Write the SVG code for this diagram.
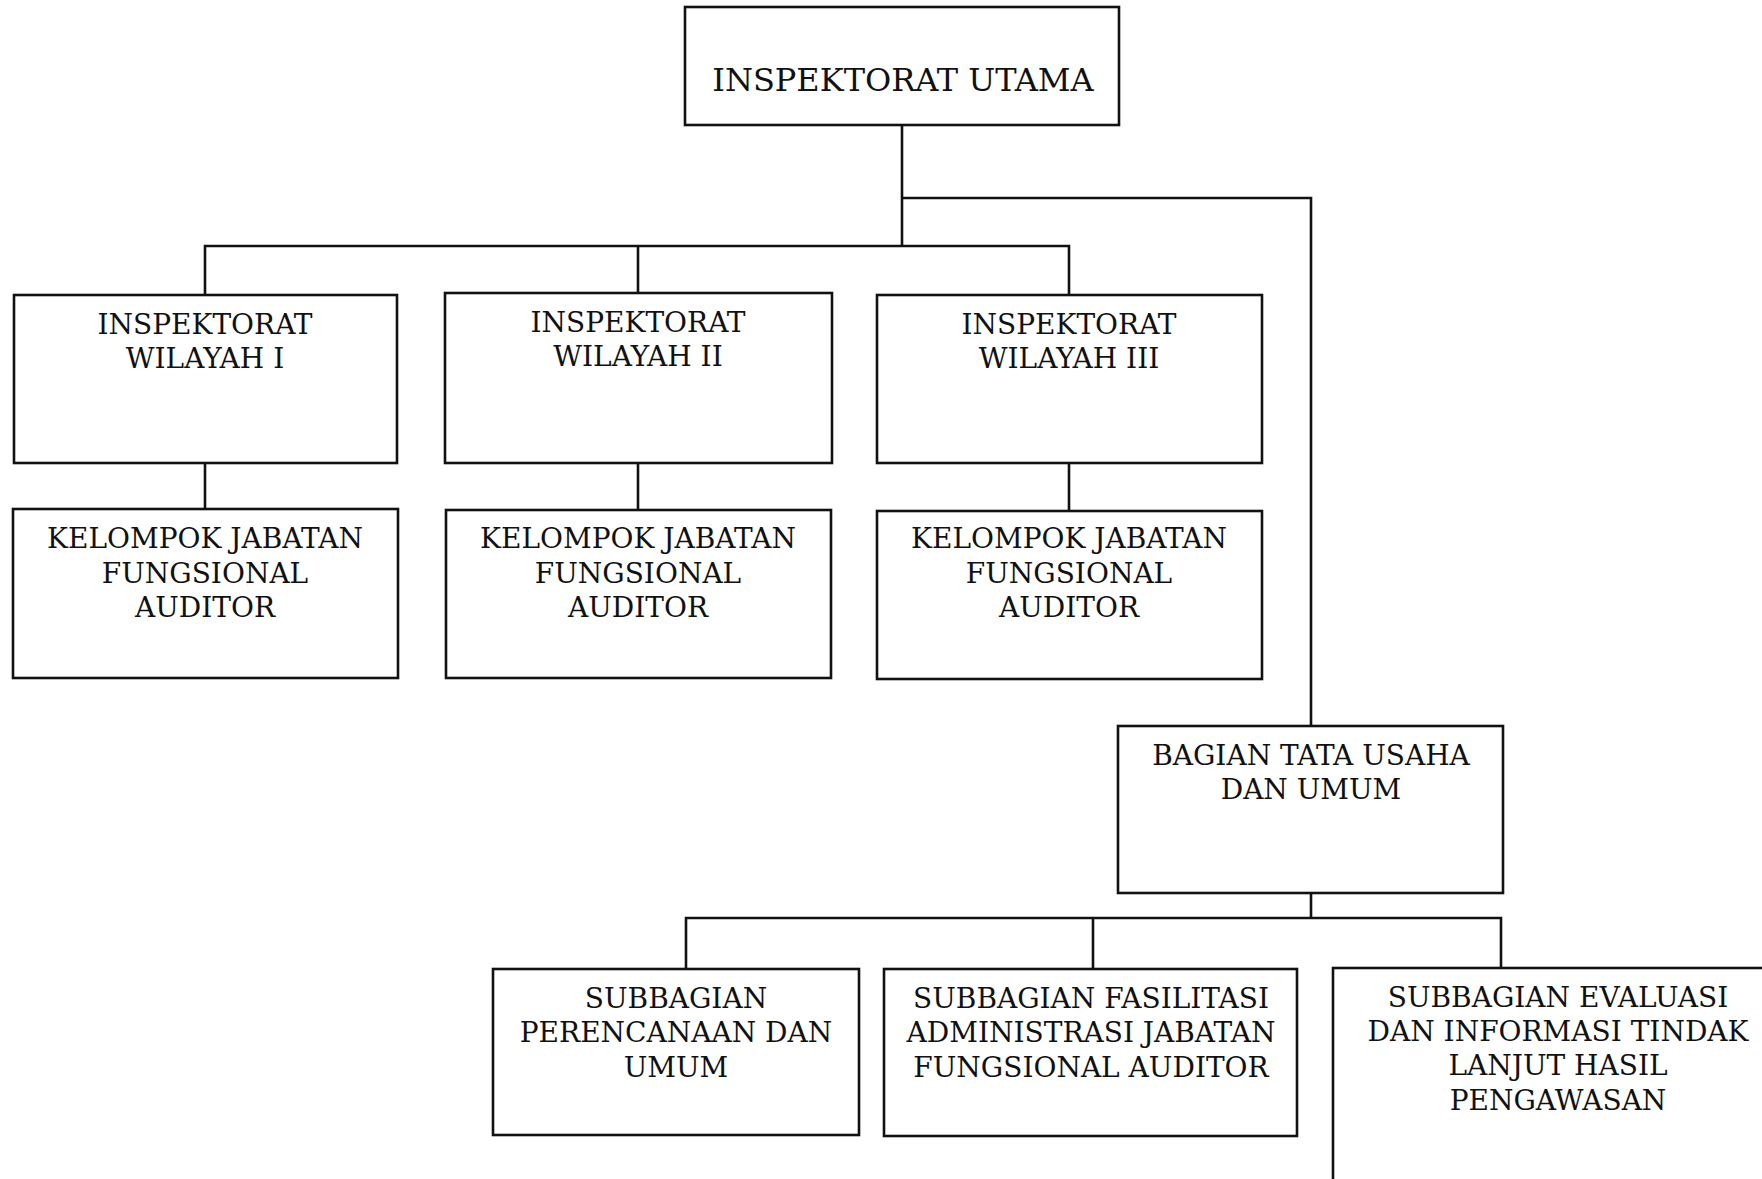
<svg xmlns="http://www.w3.org/2000/svg" width="1762" height="1179" viewBox="0 0 1762 1179">
  <style>
    .box { fill: #ffffff; stroke: #111111; stroke-width: 2.6; }
    .wire { fill: none; stroke: #111111; stroke-width: 2.6; }
    .lbl { font-family: "DejaVu Serif", "Liberation Serif", serif; font-size: 28px; fill: #111111; text-anchor: middle; }
    .title { font-size: 32px; }
  </style>
  <rect width="1762" height="1179" fill="#ffffff"/>

  <!-- connectors -->
  <g id="connectors">
    <path class="wire" d="M902 125 V246"/>
    <path class="wire" d="M902 198 H1311 V726"/>
    <path class="wire" d="M205 295 V246 H1069 V295"/>
    <path class="wire" d="M638 246 V293"/>
    <path class="wire" d="M205 463 V509"/>
    <path class="wire" d="M638 463 V510"/>
    <path class="wire" d="M1069 463 V511"/>
    <path class="wire" d="M1311 893 V918"/>
    <path class="wire" d="M686 969 V918 H1501 V968"/>
    <path class="wire" d="M1093 918 V969"/>
  </g>

  <!-- top level -->
  <g id="inspektorat-utama">
    <rect class="box" x="685" y="7" width="434" height="118"/>
    <text class="lbl title" x="903" y="91">INSPEKTORAT UTAMA</text>
  </g>

  <!-- regional inspectorates -->
  <g id="wilayah-1">
    <rect class="box" x="14" y="295" width="383" height="168"/>
    <text class="lbl" x="205" y="334">INSPEKTORAT</text>
    <text class="lbl" x="205" y="368">WILAYAH I</text>
  </g>
  <g id="wilayah-2">
    <rect class="box" x="445" y="293" width="387" height="170"/>
    <text class="lbl" x="638" y="332">INSPEKTORAT</text>
    <text class="lbl" x="638" y="366">WILAYAH II</text>
  </g>
  <g id="wilayah-3">
    <rect class="box" x="877" y="295" width="385" height="168"/>
    <text class="lbl" x="1069" y="334">INSPEKTORAT</text>
    <text class="lbl" x="1069" y="368">WILAYAH III</text>
  </g>

  <!-- auditor groups -->
  <g id="auditor-1">
    <rect class="box" x="13" y="509" width="385" height="169"/>
    <text class="lbl" x="205" y="548">KELOMPOK JABATAN</text>
    <text class="lbl" x="205" y="583">FUNGSIONAL</text>
    <text class="lbl" x="205" y="617">AUDITOR</text>
  </g>
  <g id="auditor-2">
    <rect class="box" x="446" y="510" width="385" height="168"/>
    <text class="lbl" x="638" y="548">KELOMPOK JABATAN</text>
    <text class="lbl" x="638" y="583">FUNGSIONAL</text>
    <text class="lbl" x="638" y="617">AUDITOR</text>
  </g>
  <g id="auditor-3">
    <rect class="box" x="877" y="511" width="385" height="168"/>
    <text class="lbl" x="1069" y="548">KELOMPOK JABATAN</text>
    <text class="lbl" x="1069" y="583">FUNGSIONAL</text>
    <text class="lbl" x="1069" y="617">AUDITOR</text>
  </g>

  <!-- administration -->
  <g id="bagian-tata-usaha">
    <rect class="box" x="1118" y="726" width="385" height="167"/>
    <text class="lbl" x="1311" y="765">BAGIAN TATA USAHA</text>
    <text class="lbl" x="1311" y="799">DAN UMUM</text>
  </g>

  <g id="subbagian-perencanaan">
    <rect class="box" x="493" y="969" width="366" height="166"/>
    <text class="lbl" x="676" y="1008">SUBBAGIAN</text>
    <text class="lbl" x="676" y="1042">PERENCANAAN DAN</text>
    <text class="lbl" x="676" y="1077">UMUM</text>
  </g>
  <g id="subbagian-fasilitasi">
    <rect class="box" x="884" y="969" width="413" height="167"/>
    <text class="lbl" x="1091" y="1008">SUBBAGIAN FASILITASI</text>
    <text class="lbl" x="1091" y="1042">ADMINISTRASI JABATAN</text>
    <text class="lbl" x="1091" y="1077">FUNGSIONAL AUDITOR</text>
  </g>
  <g id="subbagian-evaluasi">
    <rect class="box" x="1333" y="968" width="452" height="240"/>
    <text class="lbl" x="1558" y="1007">SUBBAGIAN EVALUASI</text>
    <text class="lbl" x="1558" y="1041">DAN INFORMASI TINDAK</text>
    <text class="lbl" x="1558" y="1075">LANJUT HASIL</text>
    <text class="lbl" x="1558" y="1110">PENGAWASAN</text>
  </g>
</svg>
